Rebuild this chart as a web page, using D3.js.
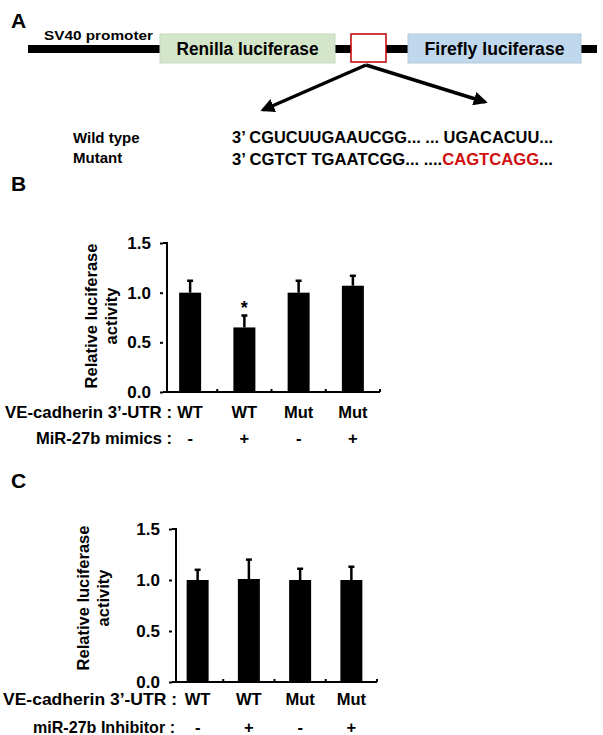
<!DOCTYPE html>
<html>
<head>
<meta charset="utf-8">
<script src="https://cdn.jsdelivr.net/npm/d3@7"></script>
<style>
  body { margin: 0; background: #fff; }
  svg text { font-family: "Liberation Sans", Arial, sans-serif; font-weight: bold; }
</style>
</head>
<body>
<svg id="fig" width="603" height="735"></svg>
<script>
// ---- data ----
const utrLabels = ["WT", "WT", "Mut", "Mut"];
const mimicsLabels = ["-", "+", "-", "+"];
const inhibitorLabels = ["-", "+", "-", "+"];
const meansB = [1.0, 0.65, 1.0, 1.07];
const errB = [0.12, 0.12, 0.12, 0.10];
const meansC = [1.0, 1.01, 1.0, 1.0];
const errC = [0.10, 0.19, 0.11, 0.13];
const yTicks = [0, 0.5, 1.0, 1.5];
const sigB = ["", "*", "", ""];

const svg = d3.select("#fig");

// ---- panel A: construct diagram ----
const A = svg.append("g");
A.append("text").attr("x", 11).attr("y", 28).attr("font-size", 21).text("A");
A.append("rect").attr("x", 28).attr("y", 45).attr("width", 569).attr("height", 8).attr("fill", "#000");
A.append("text").attr("x", 44).attr("y", 40).attr("font-size", 13)
  .attr("textLength", 109).attr("lengthAdjust", "spacingAndGlyphs").text("SV40 promoter");

const boxes = [
  { x: 160, w: 175, fill: "#d3e6c9", stroke: "#c8d8bf", label: "Renilla luciferase", lw: 142 },
  { x: 408, w: 173, fill: "#c0d8ee", stroke: "#b5c9dc", label: "Firefly luciferase", lw: 140 }
];
boxes.forEach(b => {
  A.append("rect").attr("x", b.x).attr("y", 34).attr("width", b.w).attr("height", 29)
    .attr("fill", b.fill).attr("stroke", b.stroke);
  A.append("text").attr("x", b.x + b.w / 2).attr("y", 55).attr("font-size", 18)
    .attr("text-anchor", "middle")
    .attr("textLength", b.lw).attr("lengthAdjust", "spacingAndGlyphs").text(b.label);
});
A.append("rect").attr("x", 351).attr("y", 34).attr("width", 35).attr("height", 28)
  .attr("fill", "#fff").attr("stroke", "#c00000").attr("stroke-width", 1.5);

svg.append("defs").append("marker")
  .attr("id", "ah").attr("viewBox", "0 0 10 10").attr("refX", 8).attr("refY", 5)
  .attr("markerWidth", 4).attr("markerHeight", 4).attr("orient", "auto")
  .append("path").attr("d", "M0,0 L10,5 L0,10 z").attr("fill", "#000");
[[263, 110], [485, 102]].forEach(([tx, ty]) => {
  A.append("line").attr("x1", 366).attr("y1", 65).attr("x2", tx).attr("y2", ty)
    .attr("stroke", "#000").attr("stroke-width", 3.5).attr("marker-end", "url(#ah)");
});

A.append("text").attr("x", 73).attr("y", 143).attr("font-size", 15).text("Wild type");
A.append("text").attr("x", 73).attr("y", 163).attr("font-size", 15).text("Mutant");
A.append("text").attr("x", 232).attr("y", 143).attr("font-size", 16)
  .attr("textLength", 321).attr("lengthAdjust", "spacingAndGlyphs")
  .text("3\u2019 CGUCUUGAAUCGG... ... UGACACUU...");
const mut = A.append("text").attr("x", 232).attr("y", 165).attr("font-size", 16)
  .attr("textLength", 321).attr("lengthAdjust", "spacingAndGlyphs");
mut.append("tspan").text("3\u2019 CGTCT TGAATCGG... ....");
mut.append("tspan").attr("fill", "#d01010").text("CAGTCAGG");
mut.append("tspan").text("...");

// ---- bar chart helper ----
function barPanel(opt) {
  const g = svg.append("g");
  const x = d3.scaleBand().domain(d3.range(opt.means.length)).range([opt.x0, opt.x1]);
  const y = d3.scaleLinear().domain([0, 1.5]).range([opt.y0, opt.y1]);
  const bw = 22;

  g.append("text").attr("x", 11).attr("y", opt.letterY).attr("font-size", 21).text(opt.letter);

  // y axis
  const ya = g.append("g").attr("transform", `translate(${opt.x0},0)`)
    .call(d3.axisLeft(y).tickValues(yTicks).tickFormat(d3.format(".1f")).tickSize(3).tickPadding(9));
  ya.select(".domain").attr("stroke-width", 2).attr("d", `M0,${y(1.5)}H4V${y(0)}`);
  ya.selectAll(".tick line").attr("stroke-width", 2);
  ya.selectAll(".tick text").attr("font-size", 17).attr("font-family", "Liberation Sans, Arial")
    .attr("font-weight", "bold").attr("fill", "#000");

  // x axis line with small upward ticks at band edges
  g.append("line").attr("x1", opt.x0).attr("x2", opt.x1).attr("y1", y(0)).attr("y2", y(0))
    .attr("stroke", "#000").attr("stroke-width", 2);
  g.selectAll(".xt").data(d3.range(opt.means.length)).join("line")
    .attr("x1", i => x(i) + x.bandwidth()).attr("x2", i => x(i) + x.bandwidth())
    .attr("y1", y(0)).attr("y2", y(0) - 3).attr("stroke", "#000").attr("stroke-width", 2);

  // error bars
  g.selectAll(".eb").data(opt.means).join("line")
    .attr("x1", (d, i) => x(i) + x.bandwidth() / 2).attr("x2", (d, i) => x(i) + x.bandwidth() / 2)
    .attr("y1", d => y(d)).attr("y2", (d, i) => y(d + opt.err[i]))
    .attr("stroke", "#000").attr("stroke-width", 2.5);
  g.selectAll(".cap").data(opt.means).join("line")
    .attr("x1", (d, i) => x(i) + x.bandwidth() / 2 - 3).attr("x2", (d, i) => x(i) + x.bandwidth() / 2 + 3)
    .attr("y1", (d, i) => y(d + opt.err[i])).attr("y2", (d, i) => y(d + opt.err[i]))
    .attr("stroke", "#000").attr("stroke-width", 2.5);

  // bars
  g.selectAll(".bar").data(opt.means).join("rect")
    .attr("x", (d, i) => x(i) + (x.bandwidth() - bw) / 2).attr("width", bw)
    .attr("y", d => y(d)).attr("height", d => y(0) - y(d)).attr("fill", "#000");

  if (opt.sig) {
    g.selectAll(".sig").data(opt.means).join("text")
      .attr("x", (d, i) => x(i) + x.bandwidth() / 2)
      .attr("y", (d, i) => y(d + opt.err[i]) - 2)
      .attr("text-anchor", "middle").attr("font-size", 18)
      .text((d, i) => opt.sig[i]);
  }

  // y title
  const yt = g.append("text").attr("transform", `translate(${opt.titleX},${opt.titleY}) rotate(-90)`)
    .attr("text-anchor", "middle").attr("font-size", 16.5);
  yt.append("tspan").attr("x", 0).attr("dy", 0).text("Relative luciferase");
  yt.append("tspan").attr("x", 0).attr("dy", 20).text("activity");

  // row labels
  opt.rows.forEach(r => {
    g.append("text").attr("x", r.startX).attr("y", r.y).attr("font-size", 16.5)
      .attr("textLength", r.len).attr("lengthAdjust", "spacingAndGlyphs").text(r.name);
    g.selectAll(null).data(r.vals).join("text")
      .attr("x", (d, i) => x(i) + x.bandwidth() / 2).attr("y", r.y)
      .attr("text-anchor", "middle").attr("font-size", 16.5).text(d => d);
  });
}

barPanel({
  letter: "B", letterY: 191,
  x0: 163, x1: 380, y0: 392, y1: 243,
  means: meansB, err: errB, sig: sigB,
  titleX: 97, titleY: 316,
  rows: [
    { name: "VE-cadherin 3\u2019-UTR :", startX: 5, len: 167, y: 418, vals: utrLabels },
    { name: "MiR-27b mimics :", startX: 36, len: 136, y: 444, vals: mimicsLabels }
  ]
});

barPanel({
  letter: "C", letterY: 488,
  x0: 172, x1: 377, y0: 682, y1: 529,
  means: meansC, err: errC, sig: null,
  titleX: 89, titleY: 598,
  rows: [
    { name: "VE-cadherin 3\u2019-UTR  :", startX: 3, len: 174, y: 705, vals: utrLabels },
    { name: "miR-27b Inhibitor :", startX: 33, len: 142, y: 733, vals: inhibitorLabels }
  ]
});
</script>
</body>
</html>
